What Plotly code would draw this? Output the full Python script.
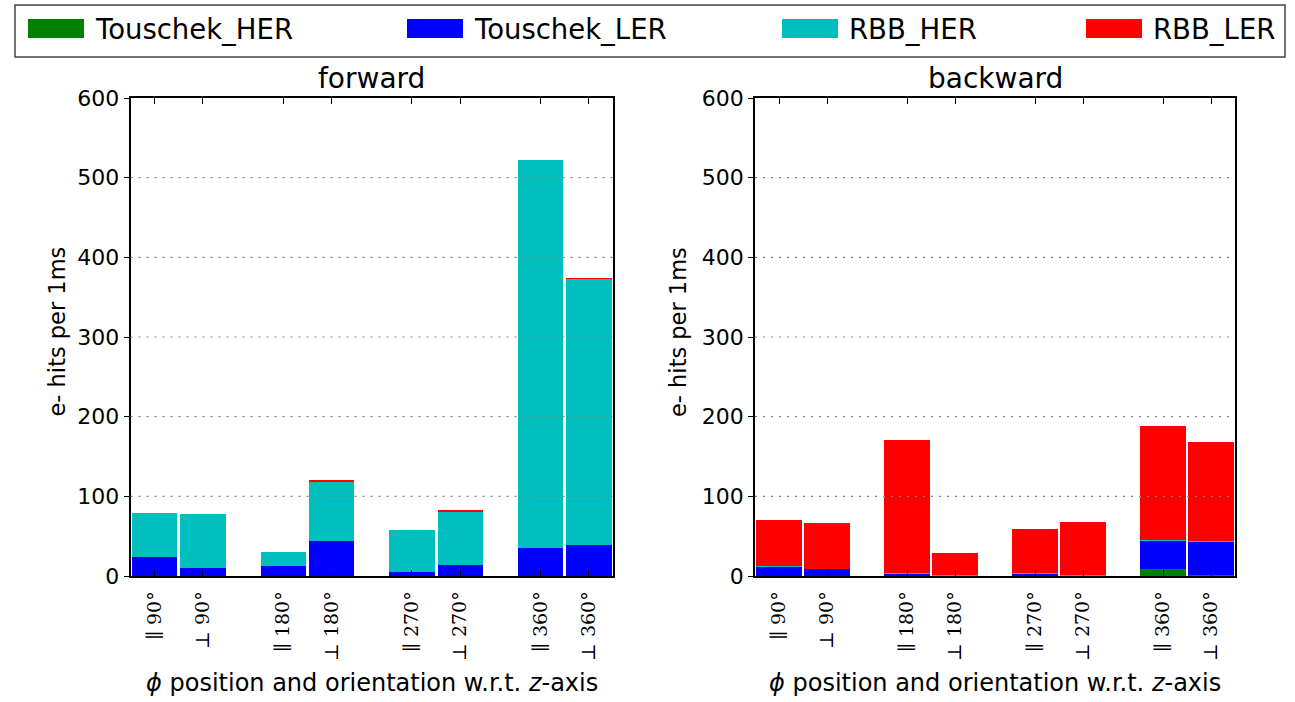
import plotly.graph_objects as go

# ---------------- data ----------------
categories = ["∥ 90°", "⊥ 90°", "∥ 180°", "⊥ 180°", "∥ 270°", "⊥ 270°", "∥ 360°", "⊥ 360°"]
series_names = ["Touschek_HER", "Touschek_LER", "RBB_HER", "RBB_LER"]

fwd_touschek_her = [0.5, 0.3, 0.3, 0.5, 0.3, 0.5, 0.5, 0.5]
fwd_touschek_ler = [23, 10, 12, 43, 5, 13, 35, 39]
fwd_rbb_her = [55, 67, 18, 75, 53, 68, 487, 334]
fwd_rbb_ler = [0, 0, 0, 0.8, 0, 0.8, 0, 0.5]

bwd_touschek_her = [0.5, 0.5, 0.3, 0.2, 0.5, 0.3, 9, 1]
bwd_touschek_ler = [12, 8.5, 2.5, 0.8, 2.5, 0.8, 35.5, 42]
bwd_rbb_her = [0.3, 0.3, 0.5, 0.2, 0.3, 0.2, 0.5, 0.5]
bwd_rbb_ler = [57, 57, 168, 28, 56, 66, 143, 125]

y_ticks = [0, 100, 200, 300, 400, 500, 600]
panel_titles = ["forward", "backward"]
x_title = "<i>ϕ</i> position and orientation w.r.t. <i>z</i>-axis"
y_title = "e- hits per 1ms"

# ---------------- styling ----------------
colors = ["#008000", "#0000ff", "#00bfbf", "#ff0000"]
W, H = 1295, 702
group_step = 8 / 3.0  # spacing between pairs of bars
xpos = [g * group_step + k for g in range(4) for k in range(2)]

fig = go.Figure()

fwd = [fwd_touschek_her, fwd_touschek_ler, fwd_rbb_her, fwd_rbb_ler]
bwd = [bwd_touschek_her, bwd_touschek_ler, bwd_rbb_her, bwd_rbb_ler]

for vals, xa, ya in [(fwd, "x", "y"), (bwd, "x2", "y2")]:
    for name, v, c in zip(series_names, vals, colors):
        fig.add_trace(go.Bar(
            x=xpos, y=v, name=name, width=0.94,
            marker=dict(color=c, line=dict(width=0)),
            xaxis=xa, yaxis=ya, showlegend=False,
        ))

x_domains = [[130.5 / W, 613 / W], [755 / W, 1235 / W]]
y_domain = [(H - 576) / H, (H - 98) / H]

axis_common_x = dict(
    range=[-0.5, 9.5], tickvals=xpos, ticktext=categories, tickangle=-90,
    tickfont=dict(family="DejaVu Serif", size=19, color="black"),
    ticks="inside", ticklen=6, tickcolor="black", mirror="ticks",
    showline=True, linecolor="black", linewidth=1.5, showgrid=False,
    zeroline=False, ticklabelstandoff=6, automargin=False, fixedrange=True,
)
axis_common_y = dict(
    range=[0, 600], tickvals=y_ticks,
    tickfont=dict(family="DejaVu Sans", size=22, color="black"),
    ticks="outside", ticklen=5, tickcolor="black", mirror=True,
    showline=True, linecolor="black", linewidth=1.5, showgrid=False,
    zeroline=False, automargin=False, fixedrange=True,
)

fig.update_layout(
    width=W, height=H, barmode="stack",
    margin=dict(l=0, r=0, t=0, b=0),
    paper_bgcolor="white", plot_bgcolor="white",
    xaxis=dict(domain=x_domains[0], anchor="y", **axis_common_x),
    xaxis2=dict(domain=x_domains[1], anchor="y2", **axis_common_x),
    yaxis=dict(domain=y_domain, anchor="x", **axis_common_y),
    yaxis2=dict(domain=y_domain, anchor="x2", **axis_common_y),
    showlegend=False,
)

# dotted grid lines above bars
for xr, yr in [("x", "y"), ("x2", "y2")]:
    for t in y_ticks[1:-1]:
        fig.add_shape(type="line", xref=f"{xr} domain", yref=yr, x0=0, x1=1, y0=t, y1=t,
                      line=dict(color="#808080", width=1.2, dash="2px,6px"), layer="above")

# titles and axis labels
for i, (dom, title) in enumerate(zip(x_domains, panel_titles)):
    cx = (dom[0] + dom[1]) / 2
    fig.add_annotation(text=title, x=cx, y=(H - 79) / H, xref="paper", yref="paper",
                       showarrow=False, xanchor="center", yanchor="middle",
                       font=dict(family="DejaVu Sans", size=28, color="black"))
    fig.add_annotation(text=x_title, x=cx, y=(H - 683) / H, xref="paper", yref="paper",
                       showarrow=False, xanchor="center", yanchor="middle",
                       font=dict(family="DejaVu Sans", size=24, color="black"))
ytitle_x = [56.5, 678]
for px in ytitle_x:
    fig.add_annotation(text=y_title, x=px / W, y=(H - 332) / H, xref="paper", yref="paper",
                       showarrow=False, xanchor="center", yanchor="middle", textangle=-90,
                       font=dict(family="DejaVu Sans", size=22.5, color="black"))

# legend box (drawn manually to match large patches)
fig.add_shape(type="rect", xref="paper", yref="paper",
              x0=15 / W, x1=1285 / W, y0=(H - 57) / H, y1=(H - 5) / H,
              line=dict(color="#444444", width=1.5), fillcolor="white", layer="below")
patch_x = [28, 407, 782, 1086]
for px, name, c in zip(patch_x, series_names, colors):
    fig.add_shape(type="rect", xref="paper", yref="paper",
                  x0=px / W, x1=(px + 56) / W, y0=(H - 38) / H, y1=(H - 19) / H,
                  line=dict(width=0), fillcolor=c)
    fig.add_annotation(text=name, x=(px + 65) / W, y=(H - 29) / H, xref="paper", yref="paper",
                       showarrow=False, xanchor="left", yanchor="middle",
                       font=dict(family="DejaVu Sans", size=27.5, color="black"))

fig.write_html("out.html")
